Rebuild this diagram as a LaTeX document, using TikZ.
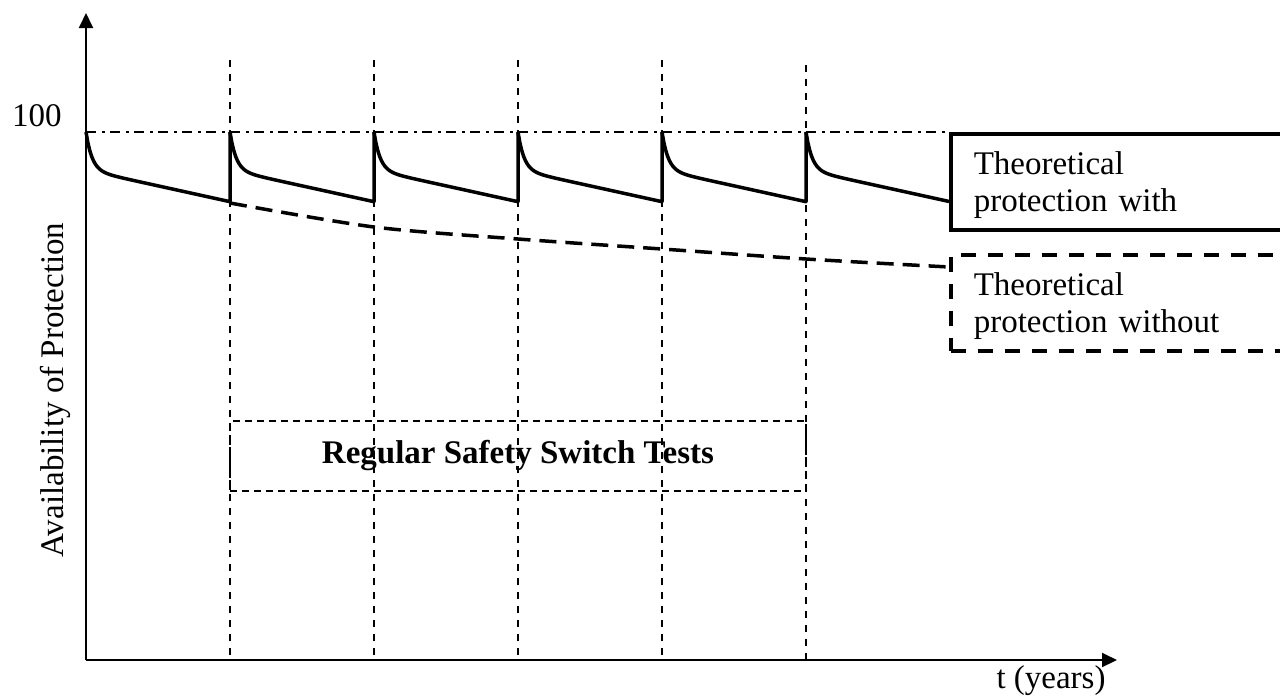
\documentclass[tikz,border=0pt]{standalone}
\usepackage{fontspec}
\setmainfont{Liberation Serif}
\usetikzlibrary{arrows.meta}
\begin{document}
\begin{tikzpicture}[x=1pt,y=-1pt,
    axis/.style={line width=2pt,-{Triangle[length=15pt,width=14pt]}},
    grid/.style={line width=1.6pt,dash pattern=on 7pt off 7pt},
    curve/.style={line width=3.5pt,line join=round},
    txt/.style={font=\fontsize{33}{37}\selectfont},
    legendbox/.style={txt,draw,line width=3.5pt,anchor=north west,minimum height=96pt,
      text width=310pt,text height=29pt,inner xsep=23pt,inner ysep=4pt,align=left}]
  \useasboundingbox (0,0) rectangle (1280,697);
  % axes
  \coordinate (o) at (86,660);
  \draw[axis] (o) -- (86,13);
  \draw[axis] (o) -- (1117,660);
  \node[txt,anchor=base,rotate=90] (ylab) at (63,390) {Availability of Protection};
  \node[txt,anchor=base] (tlab) at (1051,688) {t (years)};
  \node[txt,anchor=base] (hundred) at (37,126) {100};
  % test instants
  \foreach \x/\top in {230/60,374/60,518/60,662/60,806/65}
    \draw[grid] (\x,\top) -- (\x,660);
  \draw[line width=1.5pt,dash pattern=on 10pt off 6pt on 3pt off 5pt] (hundred.base -| o) ++(0,6) -- (949,132);
  % legend
  \node[legendbox] (withbox) at (949,132) {Theoretical\\protection with};
  \node[legendbox,dash pattern=on 15pt off 12pt] (withoutbox) at (949,253) {Theoretical\\protection without};
  \node[txt,font=\fontsize{33}{37}\selectfont\bfseries,draw,line width=1.6pt,dash pattern=on 7pt off 5pt,
    minimum width=576pt,minimum height=70pt] (tests) at (518,456) {Regular Safety Switch Tests};
  % availability with tests
  \foreach \x in {86,230,374,518,662}
    \draw[curve] plot[domain=0:144,samples=80,variable=\t] ({\x+\t},{132+38*(1-exp(-\t/6))+0.22*\t}) -- ++(0,-69.7);
  \draw[curve] plot[domain=0:143,samples=80,variable=\t] ({806+\t},{132+38*(1-exp(-\t/6))+0.22*\t});
  % availability without tests
  \draw[curve,dash pattern=on 17pt off 9pt] plot[smooth] coordinates {(230,203) (374,227) (518,239) (662,249) (806,259) (949,267)};
\end{tikzpicture}
\end{document}
